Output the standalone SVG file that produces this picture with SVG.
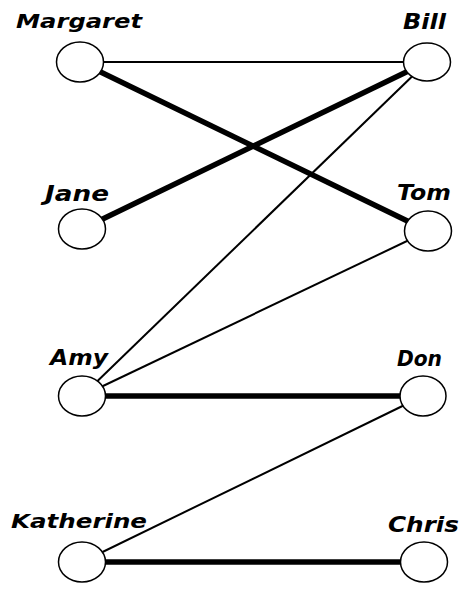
<svg xmlns="http://www.w3.org/2000/svg" width="464" height="589" viewBox="0 0 464 589">
<style>
.bg{fill:#ffffff}
.n{fill:#ffffff;stroke:#000000;stroke-width:1.5}
.t{font-family:"DejaVu Sans",Verdana,sans-serif;font-weight:bold;font-style:italic;font-size:22px;fill:#000000}
.thin{stroke:#000000;stroke-width:2;fill:none}
.thick{stroke:#000000;stroke-width:5.5;fill:none}
</style>
<rect class="bg" x="0" y="0" width="464" height="589"/>
<g id="connectors">
<line class="thin" x1="80" y1="62" x2="427" y2="62"/>
<line class="thick" x1="80" y1="62" x2="428" y2="231"/>
<line class="thick" x1="82" y1="229" x2="427" y2="62"/>
<line class="thin" x1="82" y1="396" x2="427" y2="62"/>
<line class="thin" x1="82" y1="396" x2="428" y2="231"/>
<line class="thick" x1="82" y1="396" x2="423" y2="396"/>
<line class="thin" x1="82" y1="562" x2="423" y2="396"/>
<line class="thick" x1="82" y1="562" x2="424" y2="562"/>
</g>
<g id="margaret"><ellipse class="n" cx="80" cy="62" rx="23.5" ry="20"/><text class="t" x="16" y="28" textLength="126" lengthAdjust="spacingAndGlyphs" style="font-size:20px">Margaret</text></g>
<g id="jane"><ellipse class="n" cx="82" cy="229" rx="23.5" ry="20"/><text class="t" x="45" y="201" textLength="64" lengthAdjust="spacingAndGlyphs">Jane</text></g>
<g id="amy"><ellipse class="n" cx="82" cy="396" rx="23.5" ry="20"/><text class="t" x="50" y="365" textLength="58" lengthAdjust="spacingAndGlyphs">Amy</text></g>
<g id="katherine"><ellipse class="n" cx="82" cy="562" rx="23.5" ry="20"/><text class="t" x="11" y="528" textLength="136" lengthAdjust="spacingAndGlyphs" style="font-size:20px">Katherine</text></g>
<g id="bill"><ellipse class="n" cx="427" cy="62" rx="23.5" ry="19"/><text class="t" x="403" y="29" textLength="43" lengthAdjust="spacingAndGlyphs">Bill</text></g>
<g id="tom"><ellipse class="n" cx="428" cy="231" rx="23.5" ry="20"/><text class="t" x="397" y="200" textLength="54" lengthAdjust="spacingAndGlyphs">Tom</text></g>
<g id="don"><ellipse class="n" cx="423" cy="396" rx="23" ry="20"/><text class="t" x="397" y="366" textLength="45" lengthAdjust="spacingAndGlyphs">Don</text></g>
<g id="chris"><ellipse class="n" cx="424" cy="562" rx="23.5" ry="20"/><text class="t" x="388" y="532" textLength="71" lengthAdjust="spacingAndGlyphs">Chris</text></g>
</svg>
